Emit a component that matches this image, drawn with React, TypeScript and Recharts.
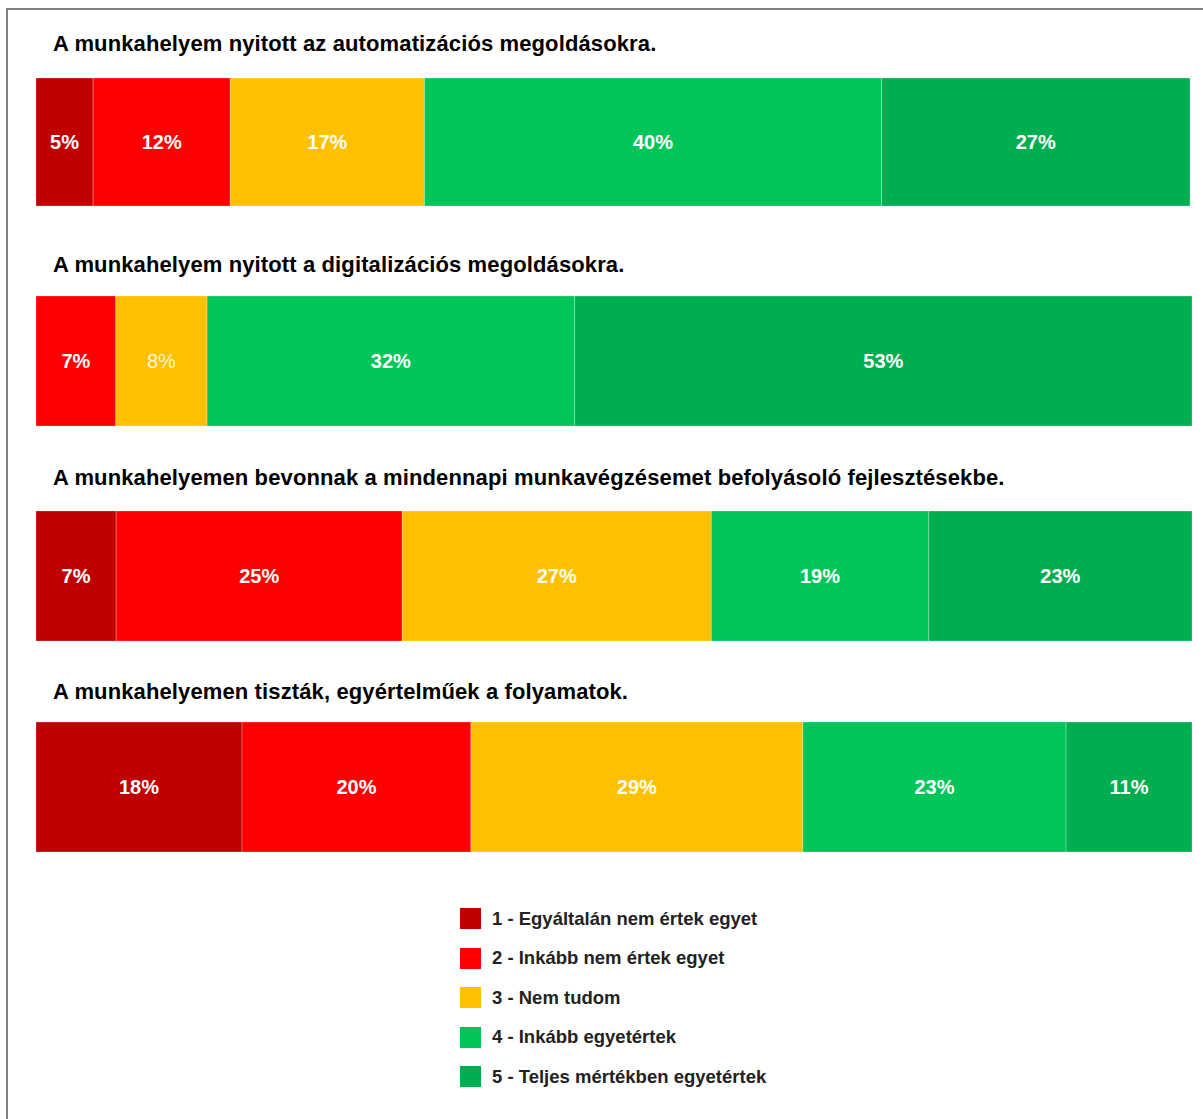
import { BarChart, Bar, XAxis, YAxis, LabelList } from 'recharts';

const answerLabels = [
  '1 - Egyáltalán nem értek egyet',
  '2 - Inkább nem értek egyet',
  '3 - Nem tudom',
  '4 - Inkább egyetértek',
  '5 - Teljes mértékben egyetértek',
];
const answerColors = ['#C00000', '#FF0000', '#FFC000', '#00C65A', '#00AE4F'];
const answerKeys = ['a1', 'a2', 'a3', 'a4', 'a5'];

const questions = [
  'A munkahelyem nyitott az automatizációs megoldásokra.',
  'A munkahelyem nyitott a digitalizációs megoldásokra.',
  'A munkahelyemen bevonnak a mindennapi munkavégzésemet befolyásoló fejlesztésekbe.',
  'A munkahelyemen tiszták, egyértelműek a folyamatok.',
];

// shares in percent (labels show the rounded value)
const automationValues = [5, 12, 17, 40, 27];
const digitalValues = [0, 6.9, 7.9, 31.8, 53.4];
const involvementValues = [7, 25, 27, 19, 23];
const processValues = [18, 20, 29, 23, 11];
const questionValues = [automationValues, digitalValues, involvementValues, processValues];

// layout of each block (page pixels)
const titleTops = [32, 253, 466, 680];
const barTops = [78, 296, 511, 722];
const barHeights = [128, 130, 130, 130];
const barWidths = [1154, 1156, 1156, 1156];

const FONT = '"Liberation Sans", Arial, sans-serif';

const makeLabel = (row: number, series: number) => (props: any) => {
  const { x, y, width, height, value } = props;
  if (!value) return null;
  // the "8%" label in the second bar is drawn in a lighter style in the original
  const light = row === 1 && series === 2;
  return (
    <text
      x={x + width / 2}
      y={y + height / 2}
      textAnchor="middle"
      dominantBaseline="central"
      fill={light ? '#FFF6DA' : '#FFFFFF'}
      fontSize={20}
      fontWeight={light ? 'normal' : 'bold'}
      fontFamily={FONT}
    >
      {Math.round(value)}%
    </text>
  );
};

const QuestionBar = ({ row }: { row: number }) => {
  const values = questionValues[row];
  const data = [
    answerKeys.reduce((acc: any, key, i) => ({ ...acc, [key]: values[i] }), { name: questions[row] }),
  ];
  return (
    <BarChart
      width={barWidths[row]}
      height={barHeights[row]}
      data={data}
      layout="vertical"
      margin={{ top: 0, right: 0, bottom: 0, left: 0 }}
      barCategoryGap={0}
    >
      <XAxis type="number" hide domain={[0, 'dataMax']} />
      <YAxis type="category" dataKey="name" hide />
      {answerKeys.map((key, i) => (
        <Bar
          key={key}
          dataKey={key}
          stackId="s"
          fill={answerColors[i]}
          stroke="rgba(255,255,255,0.25)"
          strokeWidth={1}
          isAnimationActive={false}
        >
          <LabelList dataKey={key} content={makeLabel(row, i)} />
        </Bar>
      ))}
    </BarChart>
  );
};

export default function App() {
  return (
    <div style={{ position: 'absolute', left: 0, top: 0, width: 1203, height: 1119, background: '#fff', fontFamily: FONT }}>
      <div
        style={{
          position: 'absolute',
          left: 6,
          top: 8,
          width: 1197,
          height: 1111,
          borderTop: '2px solid #808080',
          borderLeft: '2px solid #808080',
          boxSizing: 'border-box',
        }}
      />
      {questions.map((q, row) => (
        <div key={q}>
          <div
            style={{
              position: 'absolute',
              left: 53,
              top: titleTops[row],
              fontSize: 22,
              lineHeight: '24px',
              letterSpacing: 0.12,
              fontWeight: 'bold',
              color: '#000',
              whiteSpace: 'nowrap',
            }}
          >
            {q}
          </div>
          <div style={{ position: 'absolute', left: 36, top: barTops[row] }}>
            <QuestionBar row={row} />
          </div>
        </div>
      ))}
      <div style={{ position: 'absolute', left: 460, top: 908 }}>
        {answerLabels.map((label, i) => (
          <div key={label} style={{ display: 'flex', alignItems: 'center', height: 21, marginBottom: 18.5 }}>
            <div style={{ width: 21, height: 21, background: answerColors[i], marginRight: 11 }} />
            <span style={{ fontSize: 18.5, fontWeight: 'bold', color: '#222' }}>{label}</span>
          </div>
        ))}
      </div>
    </div>
  );
}
